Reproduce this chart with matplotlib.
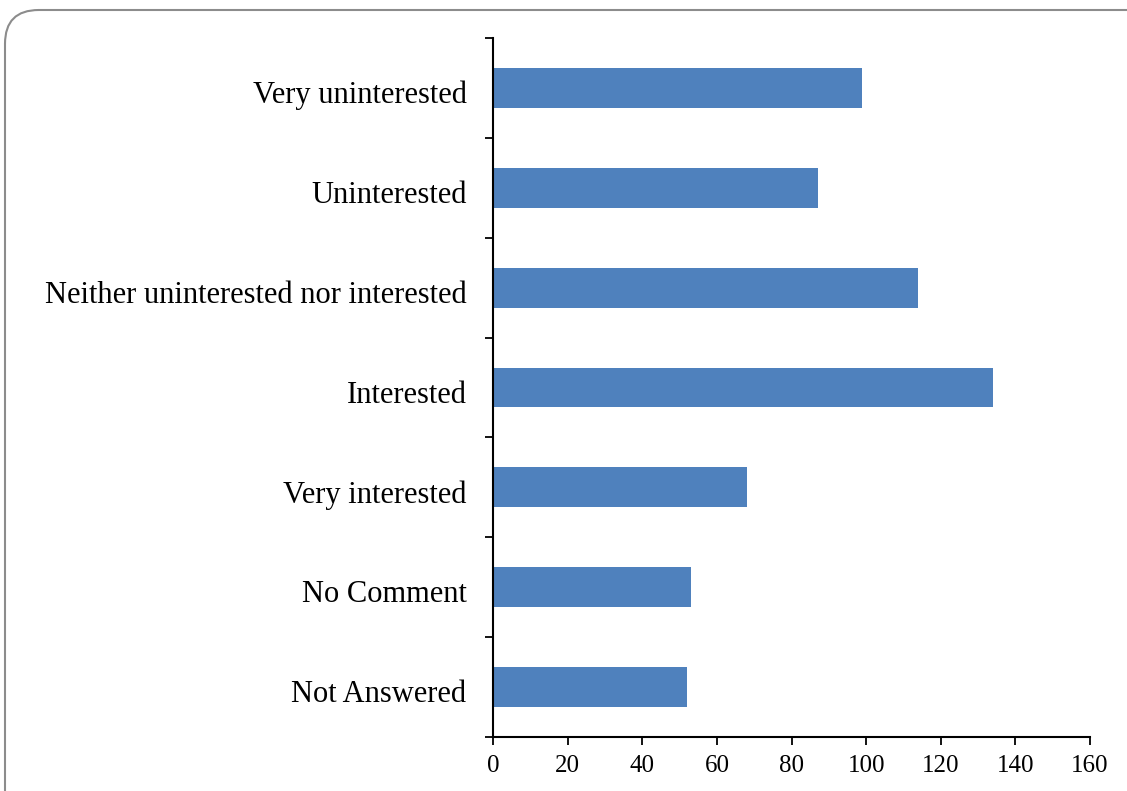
import numpy as np
import matplotlib.pyplot as plt
from matplotlib.patches import FancyBboxPatch
from matplotlib.transforms import ScaledTranslation

categories = ["Not Answered", "No Comment", "Very interested", "Interested",
              "Neither uninterested nor interested", "Uninterested", "Very uninterested"]
counts = [52, 53, 68, 134, 114, 87, 99]
xticks = [0, 20, 40, 60, 80, 100, 120, 140, 160]

plt.rcParams['font.family'] = ['Liberation Serif', 'DejaVu Serif']

fig = plt.figure(figsize=(11.27, 7.91), dpi=100)
ax = fig.add_axes([493 / 1127, 1 - 737 / 791, (1090 - 493) / 1127, (737 - 38) / 791])

y = np.arange(len(categories))
ax.barh(y, counts, height=0.4, color='#4F81BD')

ax.set_xlim(0, 160)
ax.set_ylim(-0.5, len(categories) - 0.5)
ax.set_xticks(xticks)
ax.set_xticklabels([str(v) for v in xticks], fontsize=18)
ax.set_yticks(y)
ax.set_yticklabels(categories, fontsize=22)
ax.set_yticks(np.arange(-0.5, len(categories), 1.0), minor=True)
ax.tick_params(axis='y', which='major', length=0, pad=19)
ax.tick_params(axis='y', which='minor', length=6, width=1.3, direction='out')
ax.tick_params(axis='x', length=6, width=1.3, direction='out', pad=7)

# nudge category labels down a little, like the original
shift = ScaledTranslation(0, -3 / 72, fig.dpi_scale_trans)
for lab in ax.get_yticklabels():
    lab.set_transform(lab.get_transform() + shift)

for s in ['top', 'right']:
    ax.spines[s].set_visible(False)
for s in ['left', 'bottom']:
    ax.spines[s].set_linewidth(1.5)

# rounded border around the chart area
border = FancyBboxPatch((5 / 1127, -0.05), 1.05, 0.05 + 1 - 10 / 791,
                        boxstyle="round,pad=0,rounding_size=0.03",
                        transform=fig.transFigure, facecolor='none',
                        edgecolor='#8c8c8c', linewidth=1.5, clip_on=False,
                        mutation_aspect=1127 / 791)
fig.patches.append(border)

fig.savefig('out.png', dpi=100)
